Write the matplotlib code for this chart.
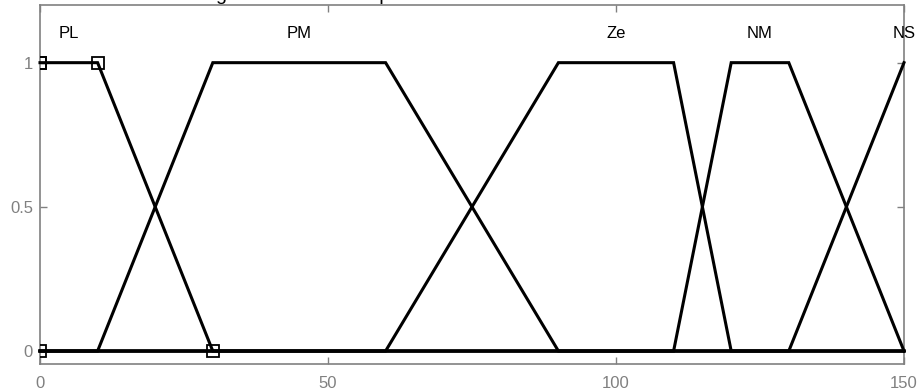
import matplotlib
matplotlib.use('Agg')
import matplotlib.pyplot as plt

# Trapezoidal membership functions over the input range [0, 150]
x_range = [0, 150]
mf_names = ["PL", "PM", "Ze", "NM", "NS"]
mf_params = [
    [0, 0, 10, 30],
    [10, 30, 60, 90],
    [60, 90, 110, 120],
    [110, 120, 130, 150],
    [130, 150, 150, 150],
]
highlighted = 0  # index of the selected membership function

grey = "#808080"


def trap_points(a, b, c, d, lo, hi):
    """Corner points of a trapmf sampled over [lo, hi] (shoulders stay flat)."""
    pts = []
    if a > lo:
        pts.append((lo, 0))
    pts.append((a, 0) if b > a else (a, 1))
    pts.append((b, 1))
    pts.append((c, 1))
    pts.append((d, 0) if d > c else (d, 1))
    if d < hi:
        pts.append((hi, 0))
    xs, ys = zip(*pts)
    return xs, ys


plt.rcParams['font.family'] = ['Liberation Sans', 'DejaVu Sans']

fig = plt.figure(figsize=(9.18, 3.9), dpi=100)
ax = fig.add_axes([40 / 918, 1 - 364 / 390, 864 / 918, 359 / 390])

for i, (a, b, c, d) in enumerate(mf_params):
    xs, ys = trap_points(a, b, c, d, *x_range)
    ax.plot(xs, ys, color="black", lw=2.2, solid_joinstyle="miter", clip_on=False, zorder=3)
    ax.text((b + c) / 2, 1.1, mf_names[i], ha="center", va="center", fontsize=12,
            color="black", clip_on=False)

# square handles on the parameter points of the selected function
a, b, c, d = mf_params[highlighted]
ax.plot([a, b, b, c, d], [0, 1, 1, 1, 0], ls="none", marker="s", ms=8,
        mfc="none", mec="black", mew=1.3, zorder=4)

ax.set_xlim(*x_range)
ax.set_ylim(-0.045, 1.2)
ax.set_xticks([0, 50, 100, 150])
ax.set_yticks([0, 0.5, 1])
ax.set_yticklabels(["0", "0.5", "1"])
ax.tick_params(direction="in", length=5, width=1, colors=grey, labelsize=12,
               top=True, right=True)
ax.tick_params(axis="x", pad=9)
ax.tick_params(axis="y", pad=5)
for s in ax.spines.values():
    s.set_color(grey)
    s.set_linewidth(1.2)

# plot title sits mostly above the visible area
fig.text(191 / 918, 1 - 0.5 / 390, "Degree of membership", fontsize=14,
         ha="left", va="baseline", color="black")

plt.savefig("out.png", dpi=100)
